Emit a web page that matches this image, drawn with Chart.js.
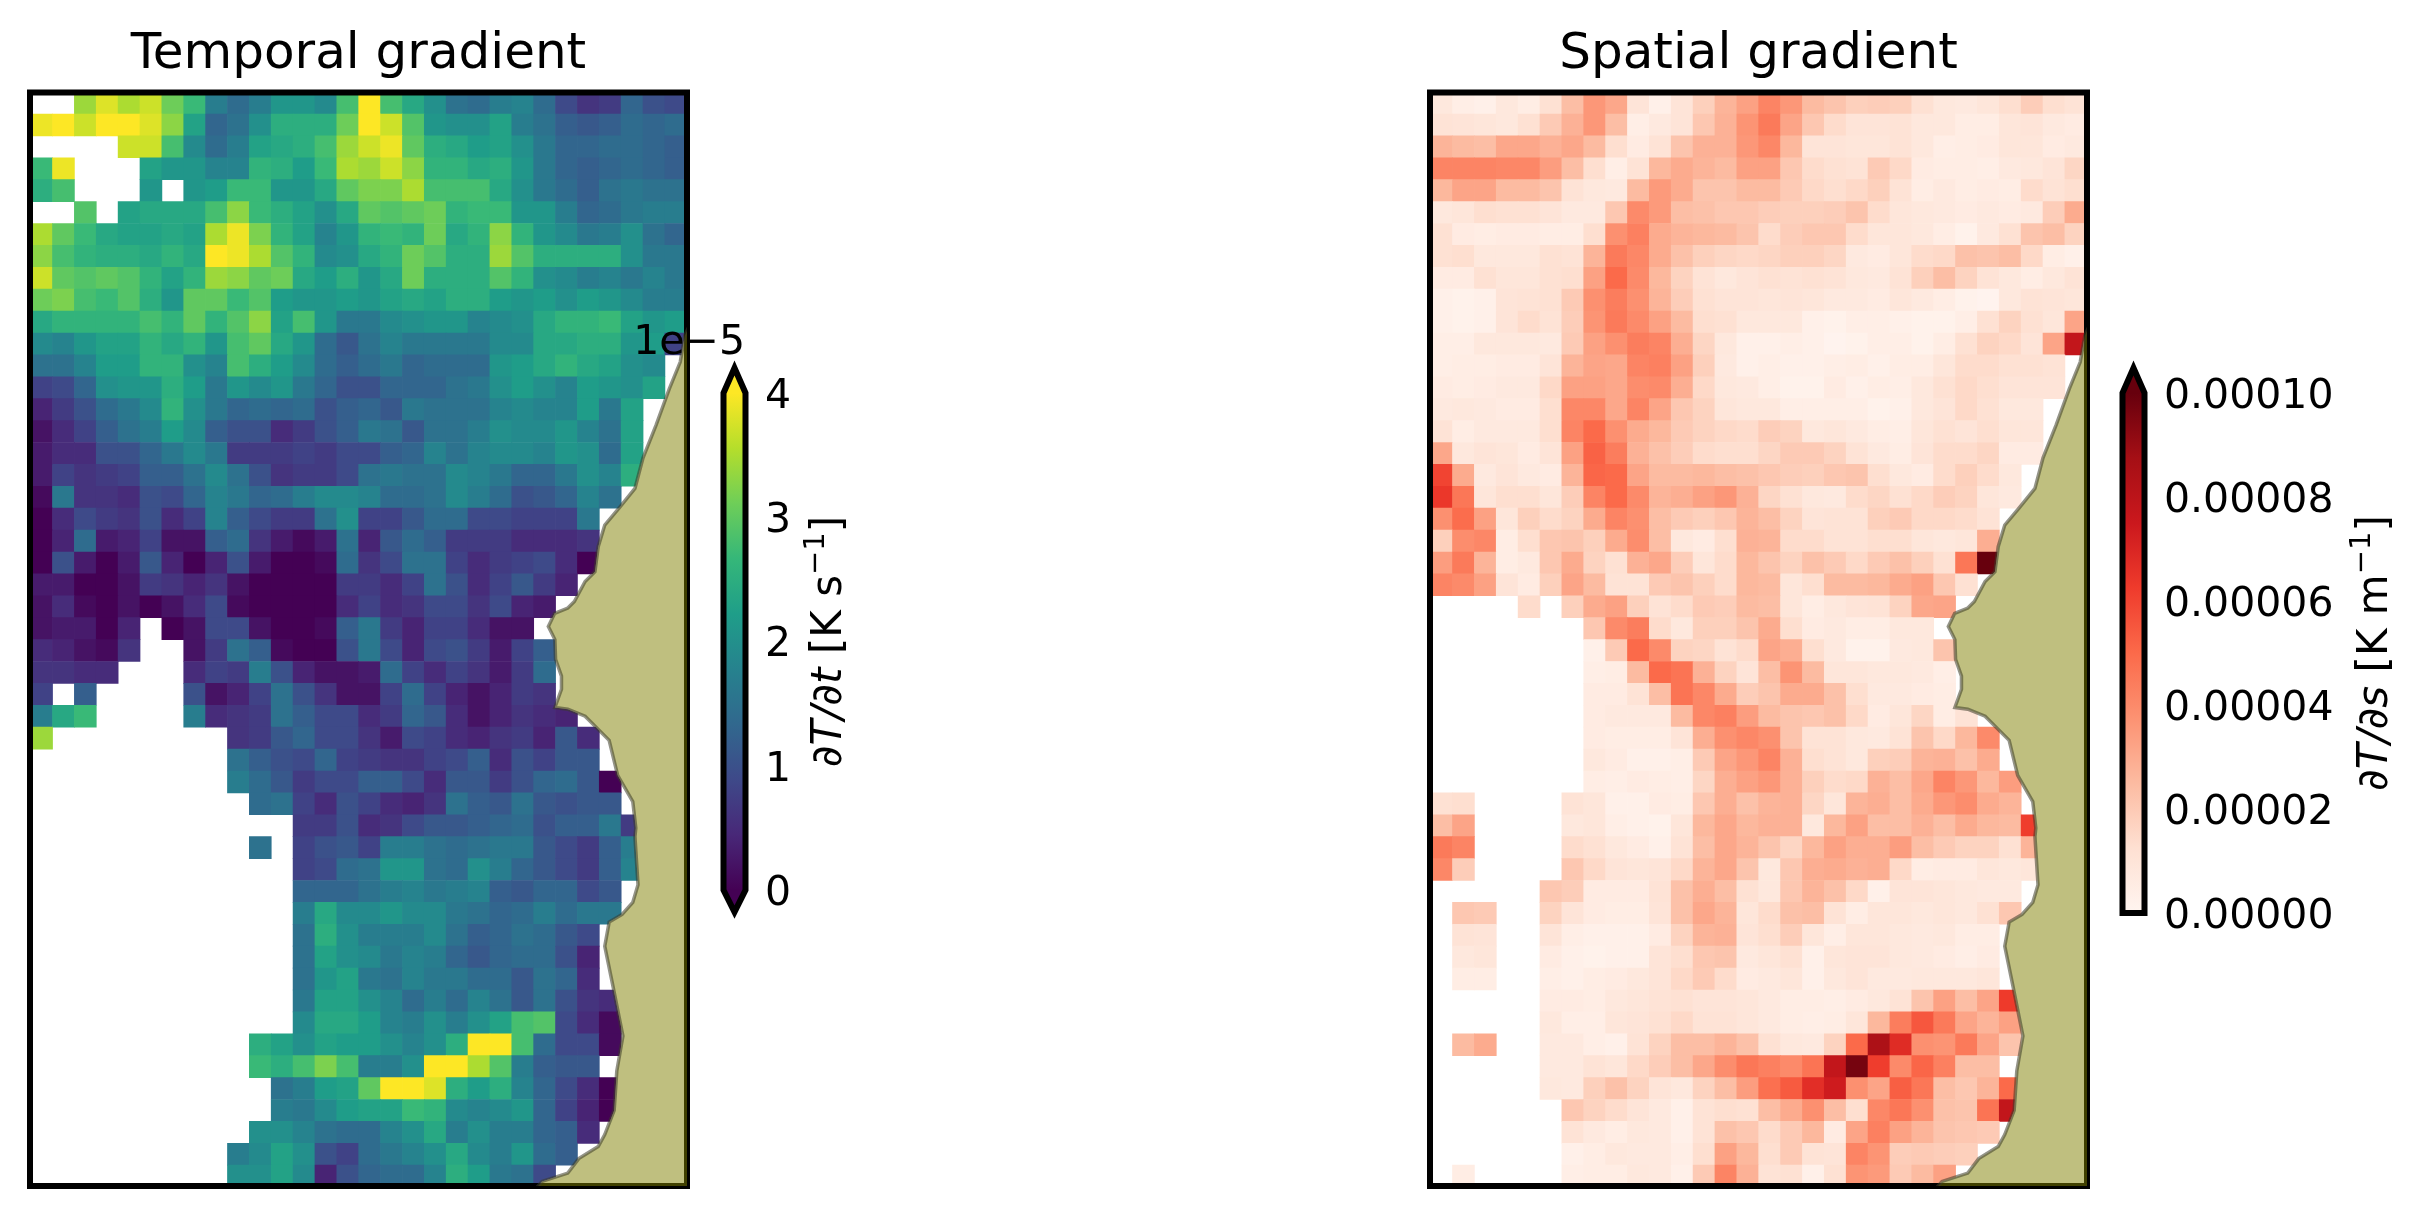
<!DOCTYPE html>
<html>
<head>
<meta charset="utf-8">
<title>Temporal and spatial gradient</title>
<script src="https://cdn.jsdelivr.net/npm/chart.js@4/dist/chart.umd.min.js"></script>
<style>
    html, body { margin: 0; padding: 0; background: #fff; width: 2427px; height: 1217px; overflow: hidden; }
    canvas { position: absolute; top: 0; }
</style>
</head>
<body>
<canvas id="temporal" width="717" height="1217" style="left:0"></canvas>
<canvas id="spatial" width="717" height="1217" style="left:1400px"></canvas>
<canvas id="temporalBar" width="300" height="1217" style="left:620px"></canvas>
<canvas id="spatialBar" width="337" height="1217" style="left:2090px"></canvas>
<script>
var _ = null;

// dT/dt in 1e-6 K/s, one line per row of the grid, top row first
var temporalGrid = [
    [_,_,34,38,35,37,31,27,17,14,17,21,21,19,28,40,28,24,20,15,14,17,18,14,9,6,7,13,10,9],
    [39,40,37,40,40,38,33,23,13,15,20,25,25,25,31,40,37,29,21,20,20,23,17,15,12,11,12,14,13,14],
    [_,_,_,_,37,37,28,19,14,17,23,24,25,28,34,37,39,30,25,24,22,23,20,16,13,13,14,14,13,12],
    [27,39,_,_,_,23,21,21,18,18,26,25,22,27,35,34,37,33,26,26,24,25,21,16,13,12,13,14,13,12],
    [25,28,_,_,_,21,_,21,22,27,27,21,21,24,30,32,32,35,28,28,28,24,20,16,14,12,15,16,15,15],
    [_,_,29,_,23,24,24,24,28,33,27,25,23,20,24,30,29,30,31,26,27,27,21,21,17,13,14,16,17,17],
    [35,30,27,24,23,23,24,23,35,39,32,26,23,18,21,26,27,26,31,24,26,33,26,21,19,16,17,20,15,13],
    [33,28,26,25,25,24,26,24,40,39,35,29,26,19,20,24,26,31,29,25,25,34,29,25,25,25,25,20,16,16],
    [37,30,29,30,29,26,23,26,34,33,30,31,24,22,25,21,24,31,25,25,25,29,26,20,19,17,18,16,18,16],
    [31,32,28,27,29,25,21,30,30,27,29,22,21,21,22,21,23,24,23,25,25,22,21,22,20,22,21,19,17,17],
    [24,26,26,26,26,28,26,30,26,29,33,23,28,21,16,16,19,20,21,21,18,19,20,24,26,26,27,23,21,22],
    [19,18,21,23,23,26,24,26,21,28,30,24,21,14,11,15,18,16,16,16,16,19,19,24,24,25,25,21,22,8],
    [15,15,18,22,22,26,26,20,18,28,25,22,19,14,12,14,16,13,14,14,14,21,22,24,26,24,23,20,19],
    [8,9,13,20,21,21,25,22,16,21,19,21,16,13,10,10,13,13,13,15,16,20,22,20,18,22,21,20,23],
    [4,7,10,14,16,19,26,20,16,13,14,13,14,10,12,13,11,16,15,15,15,18,19,18,18,22,16,23],
    [2,5,8,12,15,17,22,19,12,10,10,5,7,10,12,16,15,11,15,15,17,20,19,19,21,18,15,23],
    [3,5,5,10,10,13,16,19,16,7,7,7,8,7,9,9,12,13,18,15,18,19,19,18,21,20,14,23],
    [3,8,6,7,8,12,12,15,19,15,10,6,7,7,9,15,16,15,15,19,18,16,13,13,16,20,18,25],
    [1,16,6,6,5,10,9,13,18,16,13,14,17,19,19,18,14,14,15,19,17,14,10,11,13,18,15],
    [0,5,9,7,6,10,5,8,18,12,9,7,7,15,20,8,8,11,14,14,9,9,8,8,8,16],
    [0,4,14,3,4,8,2,2,12,14,6,3,1,3,15,4,11,14,12,7,7,7,5,5,5,6],
    [0,10,3,0,3,11,4,0,4,10,3,0,0,1,14,6,9,15,15,8,5,7,8,9,5,0],
    [3,3,0,0,2,7,6,4,6,2,0,0,0,0,7,7,5,8,15,10,5,8,11,7,4],
    [2,5,1,0,2,0,2,5,9,1,0,0,0,0,5,8,5,6,9,9,6,9,4,3],
    [2,3,3,0,4,_,0,2,9,9,2,0,0,1,12,16,7,4,8,8,5,2,2],
    [5,4,2,1,6,_,_,2,7,15,12,1,0,0,10,16,9,4,9,10,7,3,8,12],
    [6,6,5,5,_,_,_,5,8,7,17,10,4,2,2,3,14,8,5,8,6,3,7,14],
    [8,_,12,_,_,_,_,10,2,4,8,15,10,6,2,2,8,14,8,4,2,4,7,6],
    [17,24,27,_,_,_,_,17,5,6,7,15,12,9,9,5,7,13,11,5,2,4,6,5,4],
    [34,_,_,_,_,_,_,_,_,6,7,11,13,9,9,6,3,9,8,5,4,6,7,4,11,5],
    [_,_,_,_,_,_,_,_,_,15,12,10,9,13,8,7,6,6,8,9,12,5,10,8,11,11],
    [_,_,_,_,_,_,_,_,_,17,14,11,7,9,9,12,12,9,5,11,11,7,10,13,14,11,0],
    [_,_,_,_,_,_,_,_,_,_,14,15,8,5,10,8,5,4,6,15,12,11,15,11,10,11,11],
    [_,_,_,_,_,_,_,_,_,_,_,_,7,7,10,5,6,9,11,11,12,13,14,10,12,12,16,7],
    [_,_,_,_,_,_,_,_,_,_,15,_,8,10,11,8,17,17,15,14,15,16,16,11,9,7,12,17],
    [_,_,_,_,_,_,_,_,_,_,_,_,8,9,14,15,21,21,15,14,20,17,13,11,9,7,12,18],
    [_,_,_,_,_,_,_,_,_,_,_,_,13,13,13,15,17,18,16,17,18,12,11,13,13,9,11],
    [_,_,_,_,_,_,_,_,_,_,_,_,17,24,19,19,21,19,19,16,15,13,14,17,14,16,16],
    [_,_,_,_,_,_,_,_,_,_,_,_,15,25,20,17,17,17,19,15,12,13,15,14,11,9],
    [_,_,_,_,_,_,_,_,_,_,_,_,15,23,20,19,16,18,17,13,11,13,14,14,10,4],
    [_,_,_,_,_,_,_,_,_,_,_,_,15,21,23,16,15,18,16,16,14,14,11,15,13,5],
    [_,_,_,_,_,_,_,_,_,_,_,_,16,23,23,20,18,14,17,14,18,15,11,15,10,6,5],
    [_,_,_,_,_,_,_,_,_,_,_,_,19,24,24,22,18,17,20,17,20,23,28,29,9,5,1],
    [_,_,_,_,_,_,_,_,_,_,25,23,20,23,22,22,20,18,20,25,40,40,28,14,9,9,1],
    [_,_,_,_,_,_,_,_,_,_,27,25,28,32,28,17,17,20,40,40,35,29,17,12,11,11],
    [_,_,_,_,_,_,_,_,_,_,_,15,17,22,23,30,40,40,38,25,22,25,18,13,9,5,0],
    [_,_,_,_,_,_,_,_,_,_,_,17,16,19,22,23,23,27,26,19,18,19,21,13,8,4,0],
    [_,_,_,_,_,_,_,_,_,_,20,20,18,15,14,14,18,20,24,17,20,17,17,13,12,5],
    [_,_,_,_,_,_,_,_,_,17,19,23,20,10,8,14,16,18,20,24,19,17,21,14,12],
    [_,_,_,_,_,_,_,_,_,20,20,23,19,4,10,13,14,14,18,25,22,16,15,9]
];

// dT/ds in 1e-6 K/m
var spatialGrid = [
    [8,4,3,8,5,12,24,36,31,10,3,10,18,27,33,42,36,25,22,18,19,18,12,8,7,9,13,19,13,11],
    [11,10,9,8,12,20,28,36,24,4,7,10,21,28,37,45,32,21,14,10,10,11,8,8,5,5,9,10,7,6],
    [27,25,24,31,31,28,31,25,13,6,11,22,28,28,36,41,26,10,10,9,9,11,8,4,5,6,9,9,6,7],
    [42,42,42,41,41,34,24,13,4,11,26,30,27,25,33,33,21,14,12,11,20,15,6,5,5,4,7,8,10,16],
    [26,32,32,25,25,22,11,8,7,25,35,30,22,22,25,25,20,15,13,15,18,11,5,7,5,6,5,14,11,13],
    [8,9,13,12,12,10,7,7,21,40,35,24,23,21,21,19,18,18,19,22,14,9,8,7,6,7,6,7,19,30],
    [12,6,5,6,6,5,5,13,38,43,30,27,26,25,22,14,19,21,21,14,9,9,8,5,2,7,12,22,24,17],
    [12,13,8,8,8,12,11,27,45,41,30,23,18,16,15,16,18,18,16,7,6,9,14,15,23,22,24,15,5,3],
    [6,6,12,9,9,12,13,33,50,40,26,17,11,8,10,12,11,12,11,8,7,11,18,24,17,11,8,5,8,11],
    [3,2,3,10,11,12,20,38,44,38,27,19,12,10,10,9,10,9,7,7,6,9,7,5,2,1,8,11,10,9],
    [3,2,3,10,14,11,19,37,45,40,33,25,13,12,8,8,8,3,2,4,4,3,2,2,4,12,17,12,9,32],
    [4,4,8,8,8,7,20,33,38,44,42,29,16,8,3,3,4,3,1,2,4,4,2,5,12,17,15,10,32,78],
    [4,5,5,6,6,10,27,32,31,42,43,33,18,7,3,4,3,3,4,5,3,5,5,9,14,14,12,12,11],
    [6,5,6,7,7,15,33,33,31,39,40,29,15,8,7,4,2,2,6,3,5,4,8,12,15,13,10,10,10],
    [7,8,7,6,6,13,41,41,31,42,32,21,17,9,8,8,4,4,4,4,2,3,8,10,15,12,8,8],
    [11,5,7,7,7,13,42,50,38,30,26,20,17,15,14,19,17,8,9,7,5,4,9,12,10,13,9,9],
    [31,8,10,9,6,10,33,52,44,28,23,19,14,13,13,16,20,20,17,11,7,5,10,14,14,16,6,6],
    [60,30,7,10,7,6,27,51,50,32,25,25,26,24,23,21,19,18,21,22,13,8,6,14,18,14,8],
    [64,46,9,13,13,9,19,42,50,40,27,29,33,36,28,16,12,8,7,14,16,12,15,19,17,9,7],
    [38,49,33,9,18,14,17,30,42,38,24,20,18,21,27,24,17,10,11,11,18,20,15,15,14,11],
    [18,39,41,5,13,21,22,18,30,39,24,8,6,13,28,27,14,14,11,11,13,13,9,8,9,29],
    [34,45,27,5,7,21,30,17,12,28,31,19,9,14,26,22,17,23,20,15,20,23,18,12,46,100],
    [42,40,33,10,6,18,32,25,11,11,20,22,18,14,26,25,9,13,25,25,26,30,33,21,12],
    [_,_,_,_,14,_,18,30,33,18,11,14,20,19,25,24,9,5,8,10,11,17,31,32],
    [_,_,_,_,_,_,_,21,40,44,14,8,18,18,22,30,13,6,7,5,5,8,8],
    [_,_,_,_,_,_,_,3,20,50,40,17,16,11,14,32,29,13,7,2,2,7,8,22],
    [_,_,_,_,_,_,_,4,5,25,50,47,28,17,10,24,37,25,9,9,8,8,7,4],
    [_,_,_,_,_,_,_,6,6,11,24,47,41,30,19,22,30,30,23,13,7,7,6,5],
    [_,_,_,_,_,_,_,6,7,7,7,25,41,43,34,25,22,21,23,15,6,9,16,5,11],
    [_,_,_,_,_,_,_,6,5,5,5,10,29,38,41,38,22,11,11,8,7,11,22,15,26,40],
    [_,_,_,_,_,_,_,8,6,3,3,4,20,32,36,42,28,13,11,8,18,19,27,28,23,30],
    [_,_,_,_,_,_,_,5,4,6,5,4,16,29,33,36,28,18,14,15,28,24,31,42,36,26,34],
    [12,13,_,_,_,_,11,9,3,3,6,5,21,29,23,27,28,16,9,27,29,24,30,36,39,30,27],
    [24,32,_,_,_,_,8,9,4,3,2,9,26,31,26,28,28,8,26,33,24,24,28,24,30,26,25,62],
    [45,42,_,_,_,_,14,12,8,6,3,11,24,31,27,22,16,26,33,29,29,34,24,20,17,17,12,27],
    [41,19,_,_,_,_,21,15,10,9,10,15,27,31,22,8,21,29,30,28,29,15,5,6,6,9,8,9],
    [_,_,_,_,_,21,19,6,6,6,11,23,29,24,12,8,21,27,23,15,3,10,10,9,8,7,7],
    [_,21,20,_,_,17,10,6,5,5,10,23,31,27,9,14,23,24,11,5,9,9,8,9,8,12,21],
    [_,11,10,_,_,10,4,3,3,3,6,17,27,28,10,13,19,9,4,9,9,8,7,8,5,5],
    [_,8,9,_,_,6,3,2,3,3,10,13,21,22,7,9,12,3,9,10,10,8,7,6,4,6],
    [_,5,5,_,_,4,3,5,6,8,10,15,20,14,6,7,9,3,8,10,7,7,8,8,8,9],
    [_,_,_,_,_,6,6,5,8,9,11,12,10,10,9,7,5,5,4,6,8,11,22,33,24,32,63],
    [_,_,_,_,_,8,4,4,9,10,12,15,11,11,9,7,5,4,5,9,26,44,55,45,32,27,33],
    [_,25,30,_,_,7,7,4,3,11,17,24,24,27,23,12,8,7,17,50,85,68,38,37,45,32,22],
    [_,_,_,_,_,7,7,11,9,15,19,24,31,39,46,43,40,47,78,97,62,40,51,43,24,24],
    [_,_,_,_,_,8,7,18,23,17,10,8,17,24,34,48,54,67,74,38,32,53,46,24,21,27,50],
    [_,_,_,_,_,_,21,17,14,10,7,3,11,13,12,24,30,38,24,13,41,46,38,23,22,47,78],
    [_,_,_,_,_,_,11,7,5,8,7,3,11,23,21,14,20,26,6,32,43,33,27,22,21,20],
    [_,_,_,_,_,_,3,5,8,7,7,4,13,33,26,13,20,11,10,42,37,19,20,19,18],
    [_,5,_,_,_,_,4,5,5,8,7,3,20,42,28,11,12,3,12,37,35,20,25,33]
];

// coastline, in grid columns and rows
var coastCols = [29.6,29.41,29.2,28.7,28.1,27.5,27.13,26.4,25.75,25.45,25.3,24.85,24.36,24.06,23.46,23.17,23.47,23.5,23.77,23.77,23.47,24.06,24.85,25.95,26.34,27.03,27.17,27.13,27.27,27.03,26.54,25.95,25.75,26.14,26.58,26.3,26.18,25.75,25.45,24.56,24.06,22.88,22.4,30.5,30.5,29.6];
var coastRows = [10.2,10.62,11.83,13.05,14.7,16.2,17.6,18.5,19.27,20.26,21.4,21.85,22.76,23.06,23.3,23.9,24.5,25.4,26.17,26.77,27.6,27.68,28,29.1,30.7,31.9,33.1,33.5,35.7,36.5,37.05,37.4,38.5,40.4,42.6,44.2,46,47.1,47.65,48.2,48.86,49.24,49.8,49.8,10.2,10.2];

var temporalTicks = [0, 1, 2, 3, 4];
var spatialTicks = [0, 0.00002, 0.00004, 0.00006, 0.00008, 0.0001];

var viridisStops = ['#440154','#482878','#3e4989','#31688e','#26828e','#1f9e89','#35b779','#6ece58','#b5de2b','#fde725'];
var redsStops = ['#fff5f0','#fee0d2','#fcbba1','#fc9272','#fb6a4a','#ef3b2c','#cb181d','#a50f15','#67000d'];

var fontName = '"DejaVu Sans"';

function hexToRgb(h){
    return [parseInt(h.substr(1,2),16), parseInt(h.substr(3,2),16), parseInt(h.substr(5,2),16)];
}

function colormap(stops, t){
    t = Math.max(0, Math.min(1, t));
    var p = t * (stops.length - 1),
        i = Math.min(Math.floor(p), stops.length - 2),
        f = p - i,
        a = hexToRgb(stops[i]),
        b = hexToRgb(stops[i+1]);
    return 'rgb(' + Math.round(a[0]+(b[0]-a[0])*f) + ',' + Math.round(a[1]+(b[1]-a[1])*f) + ',' + Math.round(a[2]+(b[2]-a[2])*f) + ')';
}

function gridToPoints(grid){
    var points = [];
    for(var r = 0; r < grid.length; r++){
        for(var c = 0; c < grid[r].length; c++){
            if(grid[r][c] !== null){
                points.push({x: c, y: r, v: grid[r][c]});
            }
        }
    }
    return points;
}

function coastPoints(){
    return coastCols.map(function(c, i){ return {x: c, y: coastRows[i]}; });
}

// Datasets draw last to first: cells, white mask hiding cells under the land,
// then the spine, then the see-through land on top of the spine
var spinePlugin = {
    id: 'spine',
    afterDatasetDraw: function(chart, args){
        if(args.index !== 1) return;
        var a = chart.chartArea, ctx = chart.ctx;
        ctx.save();
        ctx.strokeStyle = '#000';
        ctx.lineWidth = 6;
        ctx.lineJoin = 'miter';
        ctx.strokeRect(a.left, a.top, a.right - a.left, a.bottom - a.top);
        ctx.restore();
    }
};

function drawHeatmap(canvasId, titleText, grid, stops, vmax){
    new Chart(document.getElementById(canvasId).getContext('2d'), {
        type: 'scatter',
        data: {
            datasets: [{
                data: coastPoints(),
                showLine: true,
                fill: 'shape',
                tension: 0,
                clip: 0,
                pointRadius: 0,
                borderColor: 'rgba(60,60,40,0.55)',
                borderWidth: 3.5,
                backgroundColor: 'rgba(128,128,0,0.5)'
            }, {
                data: coastPoints(),
                showLine: true,
                fill: 'shape',
                tension: 0,
                clip: 0,
                pointRadius: 0,
                borderWidth: 0,
                backgroundColor: '#fff'
            }, {
                data: gridToPoints(grid),
                pointStyle: 'rect',
                pointBorderWidth: 0,
                pointRadius: function(ctx){
                    var s = ctx.chart.scales.x;
                    return (s.getPixelForValue(1) - s.getPixelForValue(0) + 0.7) * Math.SQRT1_2;
                },
                pointBackgroundColor: function(ctx){
                    return ctx.raw ? colormap(stops, ctx.raw.v / vmax) : '#fff';
                }
            }]
        },
        options: {
            responsive: false,
            animation: false,
            events: [],
            layout: {padding: {left: 30, right: 30, top: 0, bottom: 31}},
            scales: {
                x: {type: 'linear', display: false, min: -0.53, max: 29.51},
                y: {type: 'linear', display: false, min: -0.48, max: 49.45, reverse: true}
            },
            plugins: {
                legend: {display: false},
                tooltip: {enabled: false},
                title: {
                    display: true,
                    text: titleText,
                    color: '#000',
                    font: {family: fontName, size: 50, weight: 'normal'},
                    padding: {top: 25.5, bottom: 7}
                }
            }
        },
        plugins: [spinePlugin]
    });
}

function drawColorbar(canvasId, cfg){
    var barPlugin = {
        id: 'barOutline',
        afterDatasetsDraw: function(chart){
            var a = chart.chartArea, ctx = chart.ctx,
                l = a.left - 0.5, r = a.right + 0.5, mid = (l + r) / 2;
            ctx.save();
            if(cfg.tipTop){
                ctx.beginPath(); ctx.moveTo(l, a.top + 1); ctx.lineTo(mid, a.top - cfg.tipTop); ctx.lineTo(r, a.top + 1); ctx.closePath();
                ctx.fillStyle = colormap(cfg.stops, 1); ctx.fill();
            }
            if(cfg.tipBottom){
                ctx.beginPath(); ctx.moveTo(l, a.bottom - 1); ctx.lineTo(mid, a.bottom + cfg.tipBottom); ctx.lineTo(r, a.bottom - 1); ctx.closePath();
                ctx.fillStyle = colormap(cfg.stops, 0); ctx.fill();
            }
            ctx.beginPath();
            ctx.moveTo(l, a.top);
            if(cfg.tipTop) ctx.lineTo(mid, a.top - cfg.tipTop);
            ctx.lineTo(r, a.top);
            ctx.lineTo(r, a.bottom);
            if(cfg.tipBottom) ctx.lineTo(mid, a.bottom + cfg.tipBottom);
            ctx.lineTo(l, a.bottom);
            ctx.closePath();
            ctx.strokeStyle = '#000';
            ctx.lineWidth = 6;
            ctx.lineJoin = 'miter';
            ctx.stroke();

            // rotated axis label, mathtext style
            ctx.translate(cfg.labelX, (a.top + a.bottom) / 2);
            ctx.rotate(-Math.PI / 2);
            ctx.fillStyle = '#000';
            ctx.textBaseline = 'alphabetic';
            ctx.textAlign = 'left';
            var parts = cfg.labelParts, total = 0, i;
            for(i = 0; i < parts.length; i++){
                ctx.font = parts[i].font;
                total += ctx.measureText(parts[i].text).width;
            }
            var x = -total / 2;
            for(i = 0; i < parts.length; i++){
                ctx.font = parts[i].font;
                ctx.fillText(parts[i].text, x, parts[i].rise || 0);
                x += ctx.measureText(parts[i].text).width;
            }
            ctx.restore();

            if(cfg.offsetText){
                ctx.save();
                ctx.fillStyle = '#000';
                ctx.font = '41px ' + fontName;
                ctx.textAlign = 'right';
                ctx.fillText(cfg.offsetText, a.right, a.top - 39.5);
                ctx.restore();
            }
        }
    };

    new Chart(document.getElementById(canvasId).getContext('2d'), {
        type: 'bar',
        data: {
            labels: [''],
            datasets: [{
                data: [[0, cfg.ticks[cfg.ticks.length - 1]]],
                categoryPercentage: 1,
                barPercentage: 1,
                backgroundColor: function(ctx){
                    var a = ctx.chart.chartArea;
                    if(!a) return '#fff';
                    var g = ctx.chart.ctx.createLinearGradient(0, a.bottom, 0, a.top);
                    for(var i = 0; i < cfg.stops.length; i++){
                        g.addColorStop(i / (cfg.stops.length - 1), cfg.stops[i]);
                    }
                    return g;
                }
            }]
        },
        options: {
            responsive: false,
            animation: false,
            events: [],
            layout: {padding: cfg.padding},
            scales: {
                x: {display: false},
                y: {
                    position: 'right',
                    min: 0,
                    max: cfg.ticks[cfg.ticks.length - 1],
                    afterFit: function(s){ s.width = cfg.axisWidth; },
                    afterBuildTicks: function(s){
                        s.ticks = cfg.ticks.map(function(v){ return {value: v}; });
                    },
                    border: {display: false},
                    grid: {display: false, drawTicks: false},
                    ticks: {
                        padding: 20,
                        color: '#000',
                        autoSkip: false,
                        maxRotation: 0,
                        // the blank first line with a small line height drops the digits
                        // a few px, canvas "middle" sits too high for this font
                        font: {family: fontName, size: 41, lineHeight: 0.2},
                        callback: function(v){ return ['', cfg.tickFormat(v)]; }
                    }
                }
            },
            plugins: {legend: {display: false}, tooltip: {enabled: false}}
        },
        plugins: [barPlugin]
    });
}

drawHeatmap('temporal', 'Temporal gradient', temporalGrid, viridisStops, 40);
drawHeatmap('spatial', 'Spatial gradient', spatialGrid, redsStops, 100);

var italicLabel = 'italic 42px ' + fontName, plainLabel = '42px ' + fontName, supLabel = '29px ' + fontName;

drawColorbar('temporalBar', {
    stops: viridisStops,
    ticks: temporalTicks,
    tickFormat: function(v){ return String(v); },
    tipTop: 25,
    tipBottom: 22,
    axisWidth: 60,
    padding: {left: 104, right: 115, top: 393, bottom: 327},
    labelX: 220.5,
    offsetText: '1e\u22125',
    labelParts: [
        {text: '\u2202T/\u2202t', font: italicLabel},
        {text: ' [K s', font: plainLabel},
        {text: '\u22121', font: supLabel, rise: -17},
        {text: ']', font: plainLabel}
    ]
});

drawColorbar('spatialBar', {
    stops: redsStops,
    ticks: spatialTicks,
    tickFormat: function(v){ return v.toFixed(5); },
    tipTop: 25,
    tipBottom: 0,
    axisWidth: 200,
    padding: {left: 33, right: 83, top: 393, bottom: 304},
    labelX: 297,
    labelParts: [
        {text: '\u2202T/\u2202s', font: italicLabel},
        {text: ' [K m', font: plainLabel},
        {text: '\u22121', font: supLabel, rise: -17},
        {text: ']', font: plainLabel}
    ]
});
</script>
</body>
</html>
